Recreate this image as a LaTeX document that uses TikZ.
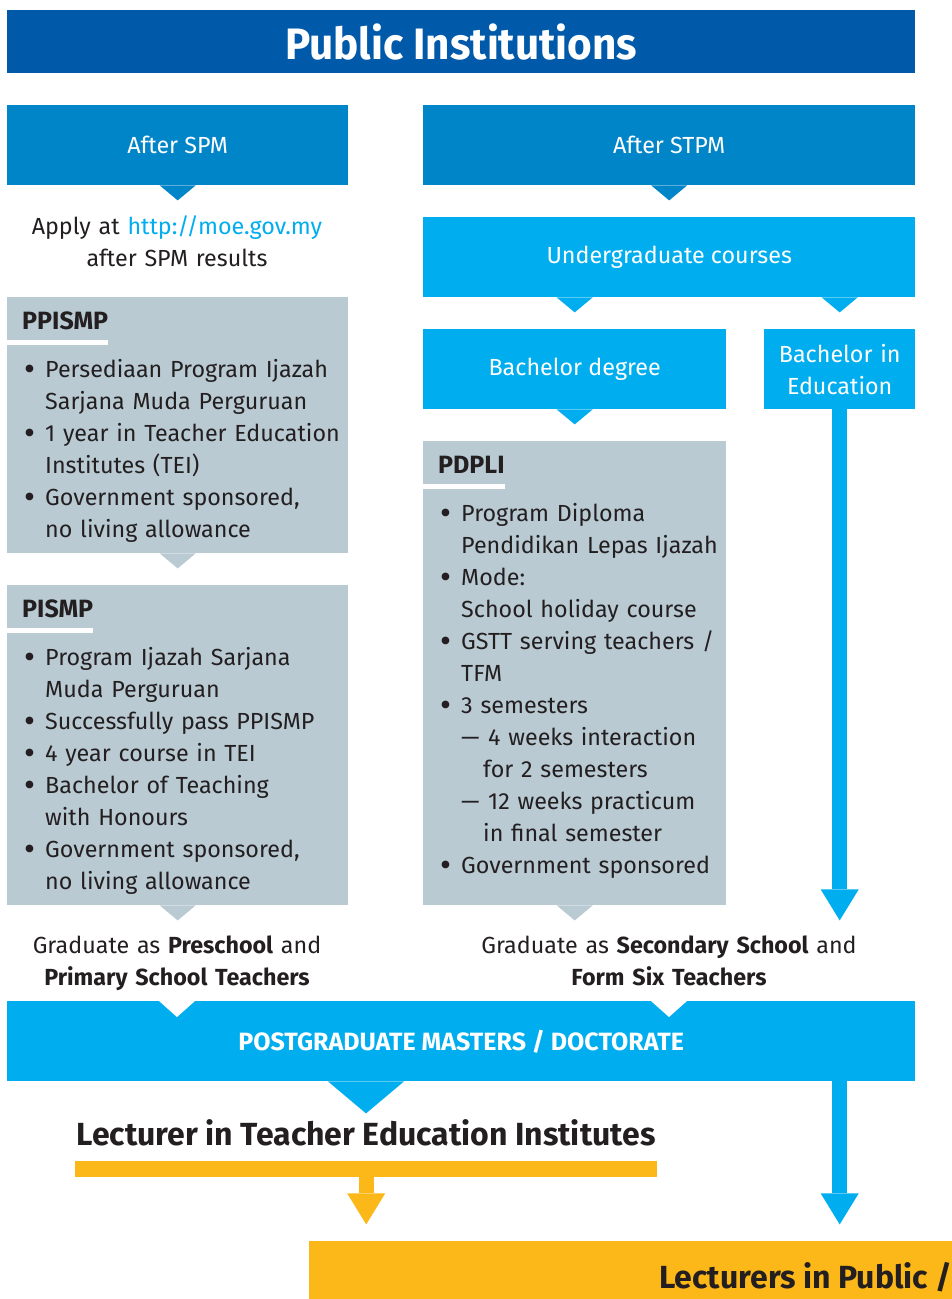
\documentclass[tikz,border=0pt]{standalone}
\usepackage{fontspec}
\usepackage{graphicx}
\setmainfont{Fira Sans}
\usetikzlibrary{arrows.meta, positioning}
\definecolor{titleblue}{RGB}{0,89,169}
\definecolor{spmblue}{RGB}{0,133,200}
\definecolor{skyblue}{RGB}{0,174,239}
\definecolor{boxgray}{RGB}{185,202,211}
\definecolor{gold}{RGB}{251,184,24}
\definecolor{ink}{RGB}{35,31,32}
\hyphenpenalty=10000

\newcommand{\bodyfont}{\fontsize{23.3}{32}\selectfont}
\newcommand{\squeeze}[2]{\scalebox{#1}[1]{#2}}
% bullet item and dash sub item
\newcommand{\dotmark}{\raisebox{-3pt}{\scalebox{1.45}{\textbullet}}}
\newcommand{\bitem}[1]{\hangindent=21pt\hangafter=1\noindent\makebox[21pt][l]{\dotmark}#1\par}
\newcommand{\ditem}[1]{\hangindent=43pt\hangafter=1\noindent\hspace*{21pt}\makebox[27pt][l]{\textemdash}#1\par}
% pointer below a box: colour, point, half width, depth
\newcommand{\tipbelow}[4]{\fill[#1] ([xshift=-#3]#2) -- ([xshift=#3]#2) -- ([yshift=-#4]#2) -- cycle;}

\begin{document}
\begin{tikzpicture}[x=1pt, y=-1pt,
    bluebox/.style={fill=#1, text=white, inner sep=0pt, anchor=north west, font=\bodyfont},
    graybox/.style={fill=boxgray, inner sep=0pt, anchor=north west},
    head/.style={font=\fontsize{25}{32}\selectfont\bfseries, text=ink, inner sep=0pt, anchor=base west},
    list/.style={font=\bodyfont, text=ink, inner sep=0pt, anchor=base west, text width=360pt, align=left},
    note/.style={font=\bodyfont, text=ink, inner sep=0pt, anchor=base, text width=440pt, align=center},
    flow/.style={line width=15pt, -{Triangle[width=38pt, length=31pt, line width=0pt]}}
]
    \useasboundingbox (0,0) rectangle (952,1299);
    \fill[white] (0,0) rectangle (952,1299);

    % Title
    \node[bluebox=titleblue, minimum width=908pt, minimum height=63pt] (title) at (7,10)
        {\fontsize{44}{44}\selectfont\bfseries\squeeze{0.96}{Public Institutions}};

    % After SPM / After STPM
    \node[bluebox=spmblue, minimum width=341pt, minimum height=80pt] (spm) at (7,105) {After SPM};
    \node[bluebox=spmblue, minimum width=492pt, minimum height=80pt] (stpm) at (423,105) {After STPM};
    \tipbelow{spmblue}{spm.south}{18pt}{15pt}
    \tipbelow{spmblue}{stpm.south}{18pt}{15pt}

    \node[note, text width=340pt] (apply) at (177,234)
        {Apply at \textcolor{skyblue}{http://moe.gov.my}\\after SPM results};

    % Undergraduate branch
    \node[bluebox=skyblue, minimum width=492pt, minimum height=80pt] (ugc) at (423,217) {Undergraduate courses};
    \node[bluebox=skyblue, minimum width=303pt, minimum height=80pt] (bdeg) at (423,329) {Bachelor degree};
    \node[bluebox=skyblue, minimum width=151pt, minimum height=80pt, text width=150pt, align=center] (bedu) at (764,329)
        {Bachelor in\\Education};
    \coordinate (ugc-l) at (ugc.south -| bdeg.north);
    \coordinate (ugc-r) at (ugc.south -| bedu.north);
    \tipbelow{skyblue}{ugc-l}{18pt}{15pt}
    \tipbelow{skyblue}{ugc-r}{18pt}{15pt}
    \tipbelow{skyblue}{bdeg.south}{18pt}{15pt}

    % PPISMP
    \node[graybox, minimum width=341pt, minimum height=256pt] (ppismp) at (7,297) {};
    \node[head] (ppismp-h) at (22,329) {PPISMP};
    \fill[white] ([xshift=-15pt,yshift=-11pt]ppismp-h.base west) rectangle ([yshift=-16pt]ppismp-h.base east);
    \node[list] (ppismp-l) at (24,377) {%
        \bitem{Persediaan Program Ijazah\newline Sarjana Muda Perguruan}
        \bitem{1 year in Teacher Education\newline Institutes (TEI)}
        \bitem{Government sponsored,\newline no living allowance}};
    \tipbelow{boxgray}{ppismp.south}{18pt}{15pt}

    % PISMP
    \node[graybox, minimum width=341pt, minimum height=320pt] (pismp) at (7,585) {};
    \node[head] (pismp-h) at (22,617) {PISMP};
    \fill[white] ([xshift=-15pt,yshift=-11pt]pismp-h.base west) rectangle ([yshift=-16pt]pismp-h.base east);
    \node[list] (pismp-l) at (24,665) {%
        \bitem{Program Ijazah Sarjana\newline Muda Perguruan}
        \bitem{Successfully pass PPISMP}
        \bitem{4 year course in TEI}
        \bitem{Bachelor of Teaching\newline with Honours}
        \bitem{Government sponsored,\newline no living allowance}};
    \tipbelow{boxgray}{pismp.south}{18pt}{15pt}

    % PDPLI
    \node[graybox, minimum width=303pt, minimum height=464pt] (pdpli) at (423,441) {};
    \node[head] (pdpli-h) at (438,473) {PDPLI};
    \fill[white] ([xshift=-15pt,yshift=-11pt]pdpli-h.base west) rectangle ([yshift=-16pt]pdpli-h.base east);
    \node[list] (pdpli-l) at (440,521) {%
        \bitem{Program Diploma\newline Pendidikan Lepas Ijazah}
        \bitem{Mode:\newline School holiday course}
        \bitem{GSTT serving teachers /\newline TFM}
        \bitem{3 semesters}
        \ditem{4 weeks interaction\newline for 2 semesters}
        \ditem{12 weeks practicum\newline in final semester}
        \bitem{Government sponsored}};
    \tipbelow{boxgray}{pdpli.south}{18pt}{15pt}

    % Graduates
    \node[note] (grad-l) at (177,953) {Graduate as \textbf{Preschool} and\\\textbf{Primary School Teachers}};
    \node[note] (grad-r) at (669,953) {Graduate as \textbf{Secondary School} and\\\textbf{Form Six Teachers}};

    % Postgraduate
    \node[bluebox=skyblue, minimum width=908pt, minimum height=80pt] (pg) at (7,1001)
        {\fontsize{25}{25}\selectfont\bfseries POSTGRADUATE MASTERS / DOCTORATE};
    \coordinate (pg-nl) at (pg.north -| grad-l.base);
    \coordinate (pg-nr) at (pg.north -| grad-r.base);
    \tipbelow{white}{pg-nl}{18pt}{16pt}
    \tipbelow{white}{pg-nr}{18pt}{16pt}

    % Lecturers
    \node[inner sep=0pt, anchor=base, text=ink, font=\fontsize{32}{32}\selectfont\bfseries] (lect) at (366,1145)
        {Lecturer in Teacher Education Institutes};
    \coordinate (pg-m) at (pg.south -| lect.base);
    \tipbelow{skyblue}{pg-m}{38pt}{32pt}
    \node[fill=gold, inner sep=0pt, anchor=north west, minimum width=582pt, minimum height=16pt] (lect-bar) at (75,1161) {};

    \node[fill=gold, inner sep=0pt, anchor=north west, minimum width=700pt, minimum height=70pt] (uni) at (309,1241) {};
    \node[inner sep=0pt, anchor=base west, text=ink, font=\fontsize{32}{32}\selectfont\bfseries] (uni-t) at (659,1288)
        {Lecturers in Public /};

    % Arrows
    \coordinate (bedu-end) at ([yshift=-511pt]bedu.south);
    \draw[flow, skyblue] (bedu.south) -- (bedu-end);
    \coordinate (lect-end) at ([yshift=-47pt]lect-bar.south);
    \draw[flow, gold] (lect-bar.south) -- (lect-end);
    \coordinate (pg-r) at (pg.south -| bedu.south);
    \coordinate (pg-end) at ([yshift=-143pt]pg-r);
    \draw[flow, skyblue] (pg-r) -- (pg-end);
\end{tikzpicture}
\end{document}
